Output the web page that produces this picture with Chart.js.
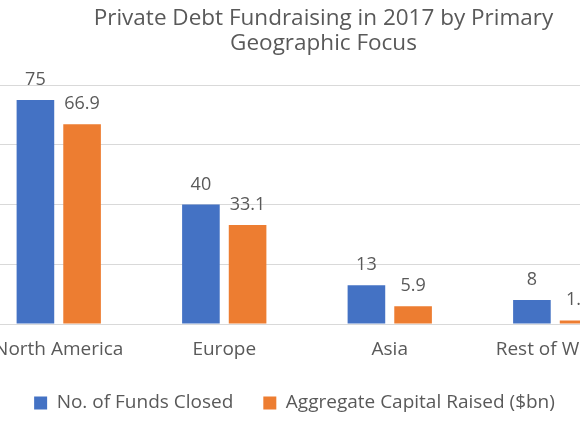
<!DOCTYPE html>
<html>
<head>
<meta charset="utf-8">
<script src="https://cdn.jsdelivr.net/npm/chart.js@4/dist/chart.umd.min.js"></script>
<style>
    html, body { margin: 0; padding: 0; background: #fff; overflow: hidden; }
    body { width: 580px; height: 435px; position: relative; }
    #wrap { position: absolute; left: -24px; top: 0; width: 695px; height: 435px; }
</style>
</head>
<body>
<div id="wrap"><canvas id="grafico"></canvas></div>
<script>
const regioes = ["North America", "Europe", "Asia", "Rest of World"];
const fundosFechados = [75, 40, 13, 8];
const capitalLevantado = [66.9, 33.1, 5.9, 1.2];
const yTicks = [0, 20, 40, 60, 80];

const corTexto = "#595959";
const fonte = "'Open Sans'";

// rotulos de valor em cima de cada barra
const rotulosBarras = {
    id: "rotulosBarras",
    afterDatasetsDraw(chart) {
        const ctx = chart.ctx;
        ctx.save();
        ctx.font = "18px " + fonte;
        ctx.fillStyle = corTexto;
        ctx.textAlign = "center";
        ctx.textBaseline = "alphabetic";
        chart.data.datasets.forEach(function (ds, i) {
            chart.getDatasetMeta(i).data.forEach(function (bar, j) {
                ctx.fillText(String(ds.data[j]), bar.x, bar.y - 15);
            });
        });
        ctx.restore();
    }
};

// a legenda fica um pouco a esquerda do titulo
const moverLegenda = {
    id: "moverLegenda",
    afterLayout(chart) {
        chart.legend.left -= 29;
        chart.legend.right -= 29;
    }
};

new Chart("grafico", {
    type: "bar",
    data: {
        labels: regioes,
        datasets: [{
            label: "No. of Funds Closed",
            backgroundColor: "#4472C4",
            data: fundosFechados
        }, {
            label: "Aggregate Capital Raised ($bn)",
            backgroundColor: "#ED7D31",
            data: capitalLevantado
        }]
    },
    options: {
        responsive: true,
        maintainAspectRatio: false,
        animation: false,
        categoryPercentage: 0.564,
        barPercentage: 0.806,
        layout: {
            padding: { top: 0, bottom: 12.5, left: 0, right: 0 }
        },
        plugins: {
            title: {
                display: true,
                text: ["Private Debt Fundraising in 2017 by Primary", "Geographic Focus"],
                color: corTexto,
                font: { family: fonte, size: 22.5, weight: "normal", lineHeight: 1.1 },
                padding: { top: 6, bottom: 29.5 }
            },
            legend: {
                position: "bottom",
                labels: {
                    color: corTexto,
                    font: { family: fonte, size: 19 },
                    boxWidth: 13,
                    boxHeight: 13,
                    padding: 30
                }
            },
            tooltip: { enabled: false }
        },
        scales: {
            x: {
                grid: { display: false },
                border: { display: true, color: "#d9d9d9" },
                ticks: {
                    color: corTexto,
                    font: { family: fonte, size: 19 },
                    padding: 6
                },
                afterFit(scale) { scale.height = 39.5; }
            },
            y: {
                position: "right",
                min: 0,
                max: 80,
                afterBuildTicks(scale) {
                    scale.ticks = yTicks.map(function (v) { return { value: v }; });
                },
                grid: { color: "#d9d9d9", drawTicks: false },
                border: { display: false },
                ticks: { display: false },
                afterFit(scale) { scale.width = 33; }
            }
        }
    },
    plugins: [rotulosBarras, moverLegenda]
});
</script>
</body>
</html>
